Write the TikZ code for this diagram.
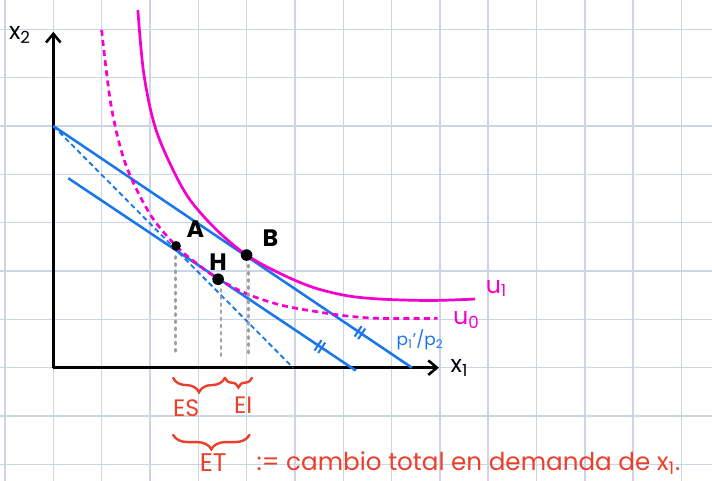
\documentclass[tikz,border=0pt]{standalone}
\usepackage{fontspec}
\setmainfont{Poppins}
\usetikzlibrary{arrows.meta,positioning,calc,decorations.pathreplacing,decorations.markings}
\definecolor{gridblue}{RGB}{203,213,230}
\definecolor{mymagenta}{RGB}{245,0,205}
\definecolor{myblue}{RGB}{25,118,235}
\definecolor{myred}{RGB}{236,62,42}
\definecolor{mygray}{RGB}{160,160,160}

\begin{document}
\begin{tikzpicture}
    \tikzstyle{gridline}=[draw=gridblue, line width=0.9pt]
    \tikzstyle{axis}=[line width=1.5pt, -{Straight Barb[length=1.8mm,width=3mm]}]
    \tikzstyle{budget}=[myblue, line width=1.5pt]
    \tikzstyle{oldbudget}=[myblue, line width=1.1pt, dash pattern=on 3pt off 2pt]
    \tikzstyle{ucurve}=[mymagenta, line width=1.6pt]
    \tikzstyle{dot}=[circle, fill=black, inner sep=0pt, minimum size=2.4mm]
    \tikzstyle{guide}=[mygray, line width=1.7pt, line cap=round, dash pattern=on 1.2pt off 3pt]
    \tikzstyle{lbl}=[font=\fontsize{14}{16}\selectfont, inner sep=1pt]
    \tikzstyle{redlbl}=[myred, font=\fontsize{14}{17}\selectfont, inner sep=1pt]
    \tikzstyle{redbrace}=[myred, line width=1.4pt, line cap=round, decorate]
    \useasboundingbox (-1.103,-2.344) rectangle (13.63,7.608);
    \draw[gridline] (-1.103,-2.344) grid (13.63,7.608);

    % axes
    \coordinate (O) at (0,0);
    \coordinate (ytop) at (0,6.95);
    \coordinate (xend) at (7.98,0);
    \draw[axis] (O) -- (ytop);
    \draw[axis] (O) -- (xend);
    \node[lbl] (x2) at (-0.69,6.88) {x\textsubscript{2}};
    \node[lbl, right=0.2cm of xend] (x1) {x\textsubscript{1}};

    % budget lines
    \coordinate (I0) at (0,5);
    \coordinate (I1) at (7.42,0);
    \coordinate (I2) at (4.96,0);
    \coordinate (C0) at (0.31,3.92);
    \coordinate (C1) at (6.26,-0.06);
    \draw[oldbudget] (I0) -- (I2);
    \draw[budget, postaction={decorate}, decoration={markings, mark=at position 0.855 with {
        \draw[line width=1.2pt] (-0.045,-0.13) -- (-0.045,0.13);
        \draw[line width=1.2pt] (0.045,-0.13) -- (0.045,0.13);}}] (I0) -- (I1);
    \draw[budget, postaction={decorate}, decoration={markings, mark=at position 0.875 with {
        \draw[line width=1.2pt] (-0.045,-0.13) -- (-0.045,0.13);
        \draw[line width=1.2pt] (0.045,-0.13) -- (0.045,0.13);}}] (C0) -- (C1);
    \node[myblue, font=\fontsize{10}{12}\selectfont] (ratio) at (7.59,0.57) {p\textsubscript{1}'/p\textsubscript{2}};

    % indifference curves
    \draw[ucurve, dash pattern=on 3.5pt off 2.5pt] plot[smooth, tension=0.55] coordinates {(1.0,6.99) (1.2,5.4) (1.5,4.2) (2.0,3.18) (2.54,2.52) (3.0,2.13) (3.41,1.84) (4.0,1.53) (4.69,1.30) (5.38,1.17) (6.07,1.07) (6.76,1.02) (7.95,1.02)};
    \draw[ucurve] plot[smooth, tension=0.55] coordinates {(1.75,7.40) (1.87,6.1) (2.1,5.0) (2.45,4.15) (2.83,3.47) (3.38,2.85) (4.0,2.33) (4.69,1.95) (5.38,1.66) (6.07,1.49) (6.76,1.42) (7.79,1.39) (8.73,1.42)};
    \node[mymagenta, lbl] (u1) at (9.17,1.64) {u\textsubscript{1}};
    \node[mymagenta, lbl] (u0) at (8.55,0.99) {u\textsubscript{0}};

    % optima
    \node[dot, minimum size=2mm] (A) at (2.54,2.52) {};
    \node[dot] (H) at (3.41,1.83) {};
    \node[dot] (B) at (4.0,2.33) {};
    \node[lbl, font=\fontsize{14}{16}\selectfont\bfseries, above right=0.05cm and 0.1cm of A] (lA) {A};
    \node[lbl, font=\fontsize{14}{16}\selectfont\bfseries, above=0.02cm of H] (lH) {H};
    \node[lbl, font=\fontsize{14}{16}\selectfont\bfseries, above right=0.05cm and 0.2cm of B] (lB) {B};
    \coordinate (As) at (2.52,0.26);
    \coordinate (Hs) at (3.47,0.19);
    \coordinate (Bs) at (4.04,0.30);
    \draw[guide] (2.52,2.3) -- (As);
    \draw[guide] (3.47,1.62) -- (Hs);
    \draw[guide] (4.04,2.12) -- (Bs);

    % effects
    \coordinate (es0) at (2.48,-0.21);
    \coordinate (es1) at (3.55,-0.21);
    \coordinate (ei1) at (4.11,-0.21);
    \coordinate (et0) at (2.48,-1.39);
    \coordinate (et1) at (4.06,-1.39);
    \draw[redbrace, decoration={brace, mirror, amplitude=0.3cm}] (es0) -- (es1);
    \draw[redbrace, decoration={brace, mirror, amplitude=0.2cm}] (es1) -- (ei1);
    \draw[redbrace, decoration={brace, mirror, amplitude=0.3cm}] (et0) -- (et1);
    \node[redlbl] (ES) at (2.75,-0.84) {ES};
    \node[redlbl] (EI) at (3.93,-0.77) {EI};
    \node[redlbl, font=\fontsize{15}{17}\selectfont] (ET) at (3.31,-1.97) {ET};
    \node[redlbl, inner sep=0pt, font=\fontsize{14.5}{17}\selectfont, anchor=west] (def) at (4.2,-1.97) {:= cambio total en demanda de x\textsubscript{1}.};
\end{tikzpicture}
\end{document}
